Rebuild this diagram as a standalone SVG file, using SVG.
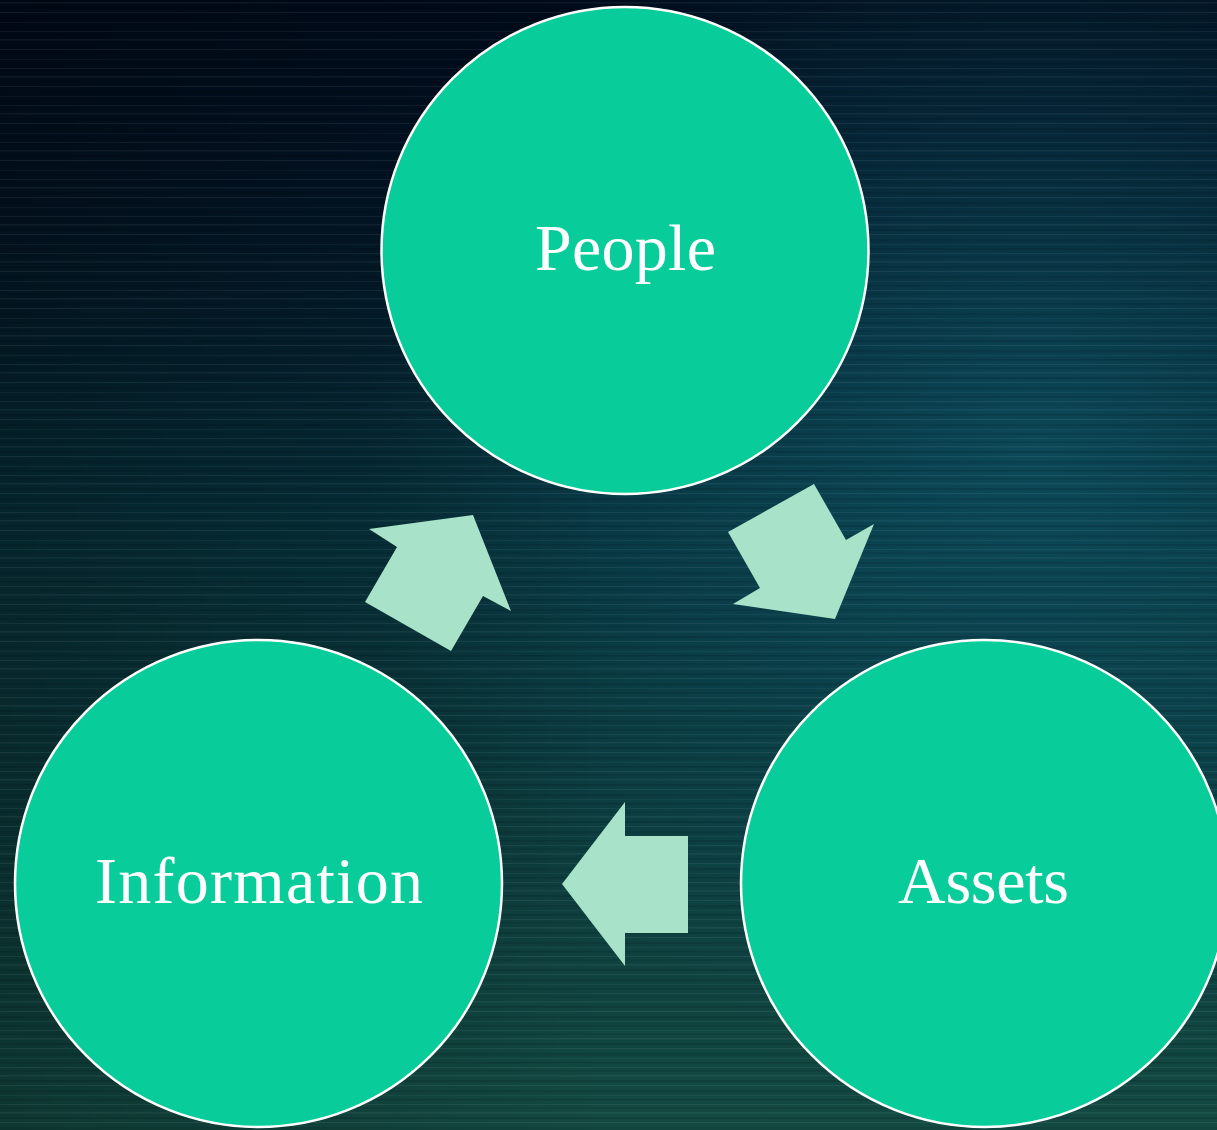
<svg xmlns="http://www.w3.org/2000/svg" width="1217" height="1130" viewBox="0 0 1217 1130">
<defs>
<linearGradient id="bg" x1="0" y1="0" x2="0" y2="1">
<stop offset="0" stop-color="#000a1a"/>
<stop offset="0.2" stop-color="#021626"/>
<stop offset="0.45" stop-color="#06303a"/>
<stop offset="0.7" stop-color="#0b3a3c"/>
<stop offset="1" stop-color="#134a42"/>
</linearGradient>
<radialGradient id="glow" cx="0.85" cy="0.4" r="0.55">
<stop offset="0" stop-color="#0f5566" stop-opacity="0.7"/>
<stop offset="1" stop-color="#0f5566" stop-opacity="0"/>
</radialGradient>
<linearGradient id="dark" x1="0" y1="0" x2="1" y2="0">
<stop offset="0" stop-color="#000" stop-opacity="0.25"/>
<stop offset="0.5" stop-color="#000" stop-opacity="0"/>
</linearGradient>
<pattern id="streaks" width="1217" height="37" patternUnits="userSpaceOnUse">
<rect y="2" width="1217" height="1.5" fill="#ffffff" opacity="0.05"/>
<rect y="7" width="1217" height="2" fill="#000000" opacity="0.12"/>
<rect y="12" width="1217" height="1" fill="#ffffff" opacity="0.07"/>
<rect y="17" width="1217" height="2.5" fill="#000000" opacity="0.1"/>
<rect y="22" width="1217" height="1" fill="#ffffff" opacity="0.04"/>
<rect y="26" width="1217" height="1.5" fill="#000000" opacity="0.14"/>
<rect y="31" width="1217" height="1" fill="#ffffff" opacity="0.06"/>
<rect y="34" width="1217" height="2" fill="#000000" opacity="0.08"/>
</pattern>
</defs>
<style>
.node circle { fill: #08cc9a; stroke: #ffffff; stroke-width: 2.5; }
.node text { fill: #ffffff; font-family: "Liberation Serif", "DejaVu Serif", serif; font-size: 66px; text-anchor: middle; }
.arrow { fill: #a8e2c8; }
</style>
<rect width="1217" height="1130" fill="url(#bg)"/>
<rect width="1217" height="1130" fill="url(#glow)"/>
<rect width="1217" height="1130" fill="url(#dark)"/>
<rect width="1217" height="1130" fill="url(#streaks)"/>
<g id="connectors">
<polygon class="arrow" points="473,515 369,529 397,547 365,602 451,651 483,596 511,611"/>
<polygon class="arrow" points="814,484 846,540 874,524 835,619 733,604 760,588 728,532"/>
<polygon class="arrow" points="562,884 625,802 625,836 688,836 688,933 625,933 625,966"/>
</g>
<g id="node-people" class="node">
<circle cx="625" cy="250.5" r="243.5"/>
<text x="625.5" y="270" textLength="181" lengthAdjust="spacing">People</text>
</g>
<g id="node-information" class="node">
<circle cx="258.5" cy="883.5" r="243.5"/>
<text x="259" y="903" textLength="328" lengthAdjust="spacing">Information</text>
</g>
<g id="node-assets" class="node">
<circle cx="984.5" cy="883.5" r="243.5"/>
<text x="983.5" y="903" textLength="171" lengthAdjust="spacing">Assets</text>
</g>
</svg>
